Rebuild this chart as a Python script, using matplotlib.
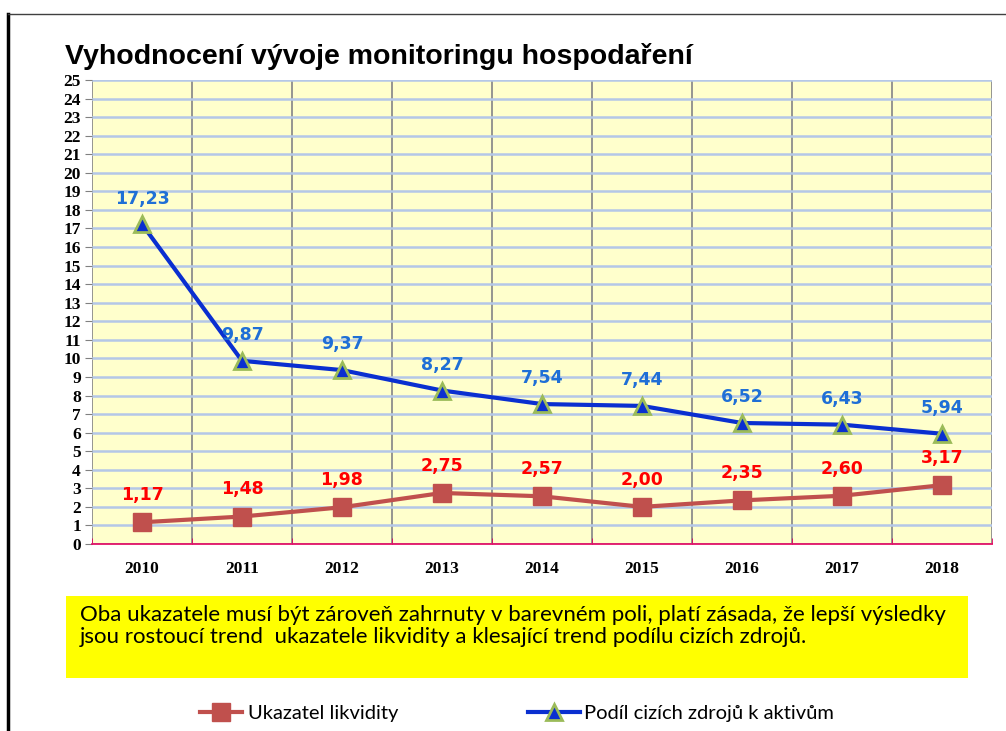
import matplotlib.pyplot as plt
from matplotlib.lines import Line2D
from matplotlib.patches import Rectangle

# data
years = ["2010", "2011", "2012", "2013", "2014", "2015", "2016", "2017", "2018"]
likvidita = [1.17, 1.48, 1.98, 2.75, 2.57, 2.00, 2.35, 2.60, 3.17]
cizi_zdroje = [17.23, 9.87, 9.37, 8.27, 7.54, 7.44, 6.52, 6.43, 5.94]
title = "Vyhodnocení vývoje monitoringu hospodaření"
note = ("Oba ukazatele musí být zároveň zahrnuty v barevném poli, platí zásada, že lepší výsledky\n"
        "jsou rostoucí trend  ukazatele likvidity a klesající trend podílu cizích zdrojů.")

fig = plt.figure(figsize=(10.06, 7.31), dpi=100)
ax = fig.add_axes([92 / 1006, 1 - 544 / 731, 900 / 1006, 464 / 731])
ax.set_facecolor("#ffffcc")

x = list(range(len(years)))
l1, = ax.plot(x, likvidita, color="#c0504d", lw=3, marker="s", ms=13,
              mfc="#c0504d", mec="#c0504d", zorder=3, label="Ukazatel likvidity")
l2, = ax.plot(x, cizi_zdroje, color="#0a2fd0", lw=3, marker="^", ms=11,
              mfc="#0a2fd0", mec="#9bbb59", mew=2, zorder=3,
              label="Podíl cizích zdrojů k aktivům")

for xi, v in zip(x, likvidita):
    ax.annotate(f"{v:.2f}".replace(".", ","), (xi, v), xytext=(0, 13),
                textcoords="offset points", ha="center", va="bottom",
                color="#ff0000", fontsize=12.5, fontweight="bold", family="DejaVu Sans")
for xi, v in zip(x, cizi_zdroje):
    ax.annotate(f"{v:.2f}".replace(".", ","), (xi, v), xytext=(0, 12),
                textcoords="offset points", ha="center", va="bottom",
                color="#1f6fd6", fontsize=12.5, fontweight="bold", family="DejaVu Sans")

ax.set_xlim(-0.5, len(years) - 0.5)
ax.set_ylim(0, 25)
ax.set_yticks(range(0, 26))
ax.set_xticks(x)
ax.set_xticklabels(years)
ax.set_xticks([i + 0.5 for i in range(-1, len(years))], minor=True)
ax.grid(axis="y", which="major", color="#b4c7e7", lw=1.8, zorder=1)
ax.grid(axis="x", which="minor", color="#8c8c8c", lw=1.3, zorder=1)
ax.set_axisbelow(True)
ax.tick_params(axis="x", which="major", length=0, pad=12)
ax.tick_params(axis="x", which="minor", length=4, color="#e0005a", direction="in")
ax.tick_params(axis="y", length=5, color="#808080", pad=3)
for lbl in ax.get_xticklabels() + ax.get_yticklabels():
    lbl.set_family("Liberation Serif")
    lbl.set_fontweight("bold")
    lbl.set_fontsize(12.5)
for s in ["top", "right", "left"]:
    ax.spines[s].set_visible(False)
ax.spines["bottom"].set_color("#e0005a")
ax.spines["bottom"].set_linewidth(1.2)

fig.text(65 / 1006, 1 - 56 / 731, title, fontsize=20.5, fontweight="bold",
         family="Liberation Sans", va="center", ha="left")

# outer frame lines
fig.add_artist(Line2D([8 / 1006, 8 / 1006], [0, 1 - 14 / 731], color="black", lw=2.5))
fig.add_artist(Line2D([8 / 1006, 1], [1 - 14 / 731, 1 - 14 / 731], color="#404040", lw=1))

# yellow note box
fig.add_artist(Rectangle((66 / 1006, 1 - 678 / 731), 902 / 1006, 82 / 731,
                         facecolor="#ffff00", edgecolor="none"))
fig.text(80 / 1006, 1 - 626 / 731, note, fontsize=16, family="Lato",
         va="center", ha="left", linespacing=1.15)

# two legend entries placed separately (fig.legend adds each to the figure)
fig.legend(handles=[l1], loc="center left", bbox_to_anchor=(200 / 1006, 1 - 713 / 731),
           frameon=False, handlelength=2.1, handletextpad=0.3, borderpad=0,
           borderaxespad=0, prop={"family": "Lato", "size": 14.5})
fig.legend(handles=[l2], loc="center left", bbox_to_anchor=(528 / 1006, 1 - 713 / 731),
           frameon=False, handlelength=2.6, handletextpad=0.2, borderpad=0,
           borderaxespad=0, prop={"family": "Lato", "size": 14.5})

fig.savefig("out.png", dpi=100)
